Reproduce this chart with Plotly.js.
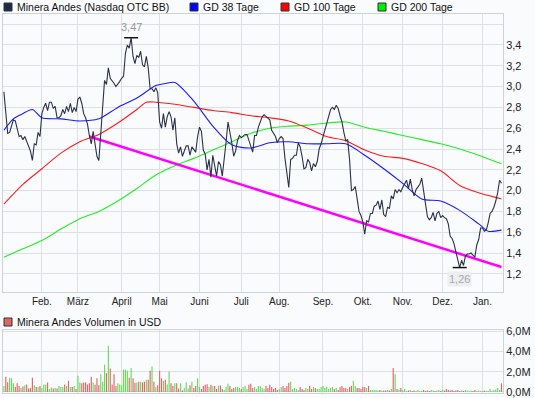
<!DOCTYPE html>
<html><head><meta charset="utf-8">
<script src="https://cdn.plot.ly/plotly-3.0.1.min.js"></script>
<style>html,body{margin:0;padding:0;background:#fafbfd;}#chart{width:535px;height:398px;}</style>
</head><body><div id="chart"></div>
<script>
// ---------- data ----------
const holidays = ['2011-01-17','2011-02-21','2011-04-22','2011-05-30','2011-07-04','2011-09-05','2011-11-24','2011-12-26','2012-01-02','2012-01-16'];
const firstDay = '2011-01-03', lastDay = '2012-01-18';
const monthLabels = ['Feb.','März','April','Mai','Juni','Juli','Aug.','Sep.','Okt.','Nov.','Dez.','Jan.'];
const yTicks = [1.2,1.4,1.6,1.8,2.0,2.2,2.4,2.6,2.8,3.0,3.2,3.4,3.6];
const volTicks = [0,2,4,6];

// daily close (USD), one per trading day
const price = [
2.95,2.75,2.55,2.56,2.62,2.68,2.67,2.60,2.52,2.53,
2.49,2.52,2.47,2.44,2.38,2.29,2.45,2.44,2.56,2.52,
2.74,2.80,2.84,2.77,2.85,2.85,2.79,2.81,2.70,2.70,
2.72,2.78,2.74,2.81,2.76,2.84,2.75,2.80,2.76,2.88,
2.90,2.84,2.74,2.70,2.64,2.53,2.45,2.57,2.46,2.33,
2.29,2.55,2.88,3.06,3.02,3.18,3.08,3.06,3.03,3.00,
3.02,3.05,3.08,3.10,3.32,3.40,3.37,3.47,3.29,3.22,
3.30,3.28,3.34,3.21,3.19,3.29,3.18,2.98,2.98,2.95,
2.99,2.94,2.66,2.60,2.74,2.61,2.71,2.76,2.71,2.58,
2.70,2.45,2.36,2.42,2.33,2.38,2.43,2.43,2.34,2.42,
2.39,2.37,2.52,2.61,2.57,2.39,2.35,2.20,2.30,2.13,
2.34,2.24,2.14,2.28,2.25,2.14,2.28,2.47,2.66,2.57,
2.46,2.33,2.38,2.48,2.53,2.51,2.53,2.54,2.54,2.49,
2.42,2.37,2.53,2.53,2.61,2.66,2.71,2.73,2.71,2.70,
2.68,2.58,2.55,2.52,2.46,2.50,2.52,2.50,2.31,2.15,
2.03,2.30,2.31,2.34,2.34,2.46,2.42,2.33,2.21,2.22,
2.30,2.27,2.19,2.26,2.23,2.28,2.40,2.45,2.52,2.57,
2.64,2.71,2.78,2.80,2.78,2.82,2.79,2.72,2.66,2.56,
2.48,2.49,2.30,2.00,2.01,2.04,1.91,1.80,1.76,1.70,
1.58,1.71,1.70,1.78,1.78,1.85,1.86,1.90,1.82,1.91,
1.77,1.75,1.84,1.83,1.95,1.92,2.01,1.98,2.01,1.99,
2.03,2.07,2.10,2.02,2.11,2.01,1.95,2.01,2.03,2.06,
2.12,2.00,1.88,1.75,1.72,1.74,1.79,1.71,1.78,1.80,
1.74,1.76,1.74,1.73,1.68,1.56,1.54,1.49,1.41,1.32,
1.26,1.33,1.28,1.37,1.39,1.39,1.40,1.38,1.36,1.48,
1.53,1.64,1.64,1.61,1.62,1.69,1.78,1.80,1.84,1.90,
1.98,2.10,2.07];

// daily volume, million USD
const volume = [
0.6,1.5,0.95,1.4,1.35,0.85,0.5,0.85,0.6,0.4,
0.55,0.67,0.74,0.34,0.4,1.4,0.67,0.5,0.5,0.6,
0.4,0.74,0.74,0.94,0.3,0.45,0.34,0.4,0.34,0.6,
0.5,0.5,0.74,0.6,1.1,0.5,0.5,0.6,0.3,1.6,
0.94,0.85,0.94,0.94,0.74,0.85,1.5,0.94,0.7,1.35,
0.67,1.75,1.0,2.7,1.85,4.55,2.3,0.74,1.75,0.6,
0.85,0.74,0.67,2.2,2.2,2.1,1.4,2.35,1.35,0.9,
0.94,1.0,1.0,0.94,1.0,1.2,1.2,2.1,2.5,1.0,
0.5,0.67,2.1,1.35,1.1,1.2,0.74,2.0,0.85,0.6,
0.85,0.85,0.34,0.85,0.17,0.4,0.95,0.34,0.67,1.0,
0.4,0.6,1.35,0.5,0.3,0.6,0.7,0.75,0.5,0.7,
0.6,0.6,0.3,0.6,0.65,0.3,0.2,0.5,0.8,0.6,
0.3,0.4,0.5,0.5,0.4,0.3,0.5,0.6,0.3,0.7,
0.8,0.4,0.5,0.3,0.6,0.6,0.4,0.3,0.6,0.4,
0.7,0.5,0.3,0.4,0.2,0.3,0.5,0.6,0.4,0.6,
0.9,1.0,0.3,0.4,0.3,0.2,0.5,0.3,0.2,0.4,
0.3,0.6,0.3,0.5,0.4,0.3,0.3,0.5,0.6,0.4,
0.5,0.3,0.4,0.5,0.3,0.4,0.2,0.5,0.6,0.4,
0.4,0.3,0.5,0.6,1.1,0.6,0.4,0.4,0.3,0.5,
0.5,0.4,0.6,0.2,0.2,0.2,0.2,0.15,0.2,0.15,
0.15,0.15,0.2,0.15,0.3,2.35,1.75,0.3,0.2,0.4,
0.2,0.3,0.1,0.15,0.2,0.1,0.15,0.1,0.2,0.1,
0.15,0.2,0.1,0.15,0.1,0.2,0.15,0.1,0.15,0.2,
0.1,0.2,0.15,0.3,0.2,0.15,0.2,0.1,0.15,0.2,
0.1,0.15,0.1,0.2,0.15,0.1,0.15,0.1,0.2,0.1,
0.15,0.1,0.1,0.15,0.1,0.1,0.3,0.1,0.2,0.25,
0.4,0.2,0.85];

// moving averages, sampled at trading-day numbers
const gd38Day = [0,5,10,15,20,30,40,50,60,70,80,85,90,100,110,120,130,140,150,160,170,180,190,200,210,220,230,240,250,255,262];
const gd38Val = [2.58,2.69,2.74,2.78,2.70,2.69,2.67,2.69,2.80,2.89,3.01,3.03,3.04,2.86,2.62,2.44,2.41,2.46,2.47,2.45,2.45,2.45,2.34,2.21,2.07,1.92,1.90,1.81,1.68,1.61,1.62];
const gd100Day = [0,10,20,30,40,50,60,70,75,80,90,100,110,120,130,140,150,160,170,180,190,200,210,220,230,240,250,260,262];
const gd100Val = [1.87,2.06,2.21,2.36,2.47,2.54,2.65,2.78,2.85,2.85,2.83,2.80,2.77,2.75,2.72,2.70,2.67,2.60,2.52,2.48,2.39,2.33,2.31,2.26,2.19,2.05,1.98,1.93,1.92];
const gd200Day = [0,10,20,30,40,50,60,70,80,90,100,110,120,130,140,150,160,170,180,190,200,210,220,230,240,250,260,262];
const gd200Val = [1.36,1.44,1.52,1.63,1.73,1.80,1.90,2.02,2.15,2.24,2.31,2.39,2.47,2.55,2.60,2.62,2.63,2.65,2.66,2.61,2.57,2.53,2.49,2.45,2.40,2.34,2.27,2.26];
// support trend line
const trendDay = [45,262];
const trendVal = [2.52,1.265];

// ---------- build ----------
function tradingDays(from, to, skip) {
  const out = [], d = new Date(from + 'T00:00:00Z'), end = new Date(to + 'T00:00:00Z');
  while (d <= end) {
    const wd = d.getUTCDay(), s = d.toISOString().slice(0, 10);
    if (wd !== 0 && wd !== 6 && skip.indexOf(s) < 0) out.push(s);
    d.setUTCDate(d.getUTCDate() + 1);
  }
  return out;
}
const days = tradingDays(firstDay, lastDay, holidays);
const idx = days.map((d, i) => i);
const monthStarts = [];
for (let i = 1; i < days.length; i++) if (days[i].slice(0, 7) !== days[i - 1].slice(0, 7)) monthStarts.push(i);

const fmt = v => v.toFixed(2).replace('.', ',');
let iMax = 0, iMin = 0;
price.forEach((v, i) => { if (v > price[iMax]) iMax = i; if (v < price[iMin]) iMin = i; });

const UP = '#66dd55', DOWN = '#e56565';
const volColors = volume.map((v, i) => (i === 0 || price[i] >= price[i - 1]) ? UP : DOWN);

const traces = [
  {x: gd200Day, y: gd200Val, type: 'scatter', mode: 'lines', line: {color: '#22ee22', width: 1.1, shape: 'spline', smoothing: 0.8}, hoverinfo: 'skip'},
  {x: gd100Day, y: gd100Val, type: 'scatter', mode: 'lines', line: {color: '#ff1a1a', width: 1.1, shape: 'spline', smoothing: 0.8}, hoverinfo: 'skip'},
  {x: gd38Day, y: gd38Val, type: 'scatter', mode: 'lines', line: {color: '#1a1aff', width: 1.1, shape: 'spline', smoothing: 0.8}, hoverinfo: 'skip'},
  {x: trendDay, y: trendVal, type: 'scatter', mode: 'lines', line: {color: '#ff00ff', width: 2.5}, hoverinfo: 'skip'},
  {x: idx, y: price, type: 'scatter', mode: 'lines', line: {color: '#2a3148', width: 1.1}},
  {x: [iMax, iMin], y: [price[iMax], price[iMin]], type: 'scatter', mode: 'markers',
   marker: {symbol: 'line-ew', size: 10, line: {color: '#111', width: 1.5}}, hoverinfo: 'skip'},
  {x: idx, y: volume, type: 'bar', xaxis: 'x2', yaxis: 'y2', marker: {color: volColors, line: {width: 0}}, width: 0.6}
];

// pixel helpers for legend placement (plot area: x 3..503, y 0..398)
const PX = px => (px - 3) / 500, PY = py => 1 - py / 398;
const legendItems = [
  {sq: 4, tx: 15, y: 7, color: '#1b2a4a', text: 'Minera Andes (Nasdaq OTC BB)'},
  {sq: 190, tx: 201, y: 7, color: '#0000ff', text: 'GD 38 Tage'},
  {sq: 281, tx: 292, y: 7, color: '#ff0000', text: 'GD 100 Tage'},
  {sq: 378, tx: 389, y: 7, color: '#00ee00', text: 'GD 200 Tage'},
  {sq: 4, tx: 15, y: 322, color: '#e06666', text: 'Minera Andes Volumen in USD'}
];
const shapes = legendItems.map(it => ({type: 'rect', xref: 'paper', yref: 'paper',
  x0: PX(it.sq), x1: PX(it.sq + 8), y0: PY(it.y + 4), y1: PY(it.y - 4),
  fillcolor: it.color, line: {color: '#333', width: 1}}));
const annotations = legendItems.map(it => ({xref: 'paper', yref: 'paper', x: PX(it.tx), y: PY(it.y),
  xanchor: 'left', yanchor: 'middle', showarrow: false, text: it.text,
  font: {size: 10.5, color: '#111'}}));
annotations.push({x: iMax, y: price[iMax], xref: 'x', yref: 'y', text: fmt(price[iMax]), showarrow: false,
  yanchor: 'bottom', yshift: 3, font: {size: 11, color: '#999'}});
annotations.push({x: iMin, y: price[iMin], xref: 'x', yref: 'y', text: fmt(price[iMin]), showarrow: false,
  yanchor: 'top', yshift: -3, bgcolor: '#eceef1', font: {size: 11, color: '#aaa'}});

const grid = '#dde0e6', frame = '#cdd1d8';
const xr = [-0.47, 262.8];
const layout = {
  width: 535, height: 398, margin: {l: 3, r: 32, t: 0, b: 0},
  paper_bgcolor: '#fafbfd', plot_bgcolor: '#fafbfd', showlegend: false, separators: ', ',
  font: {family: '"Liberation Sans", Arial, sans-serif', size: 11, color: '#222'},
  xaxis: {domain: [0, 1], range: xr, anchor: 'y', tickmode: 'array', tickvals: monthStarts, ticktext: monthLabels,
    showgrid: true, gridcolor: grid, showline: true, mirror: true, linecolor: frame, ticks: '', zeroline: false,
    tickfont: {size: 10, color: '#222'}},
  yaxis: {domain: [0.2663, 0.9648], range: [1.025, 3.698], side: 'right', tickmode: 'array', tickvals: yTicks,
    ticktext: yTicks.map(v => v <= 3.4 ? v.toFixed(1).replace('.', ',') : ''),
    showgrid: true, gridcolor: grid, showline: true, mirror: true, linecolor: frame, ticks: '', zeroline: false},
  xaxis2: {domain: [0, 1], range: xr, anchor: 'y2', tickmode: 'array', tickvals: monthStarts, showticklabels: false,
    showgrid: true, gridcolor: grid, showline: true, mirror: true, linecolor: frame, ticks: '', zeroline: false},
  yaxis2: {domain: [0.01256, 0.1709], range: [-0.1, 6.1], side: 'right', tickmode: 'array', tickvals: volTicks,
    ticktext: volTicks.map(v => v.toFixed(1).replace('.', ',') + 'M'),
    showgrid: true, gridcolor: grid, showline: true, mirror: true, linecolor: frame, ticks: '', zeroline: false},
  bargap: 0.4, shapes: shapes, annotations: annotations
};
Plotly.newPlot('chart', traces, layout, {displayModeBar: false, staticPlot: true});
</script></body></html>
